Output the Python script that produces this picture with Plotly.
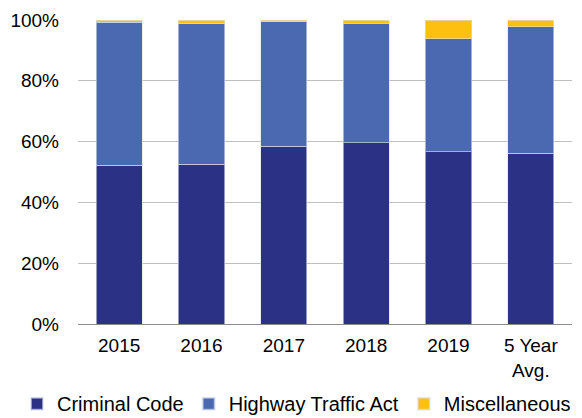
import plotly.graph_objects as go

categories = ["2015", "2016", "2017", "2018", "2019", "5 Year<br>Avg."]
criminal_code = [52.3, 52.6, 58.4, 59.7, 56.6, 56.2]
highway_traffic_act = [46.9, 46.1, 41.1, 39.2, 37.2, 41.5]
miscellaneous = [0.8, 1.3, 0.5, 1.1, 6.2, 2.3]
y_ticks = [0, 20, 40, 60, 80, 100]
y_tick_labels = ["0%", "20%", "40%", "60%", "80%", "100%"]

fig = go.Figure()
line = dict(color="rgba(220,225,240,0.6)", width=1)
fig.add_trace(go.Bar(x=categories, y=criminal_code, name="Criminal Code",
                     marker=dict(color="#2B3285", line=line)))
fig.add_trace(go.Bar(x=categories, y=highway_traffic_act, name="Highway Traffic Act",
                     marker=dict(color="#4A69B0", line=line)))
fig.add_trace(go.Bar(x=categories, y=miscellaneous, name="Miscellaneous",
                     marker=dict(color="#FDC010", line=line)))

fig.update_layout(
    barmode="stack",
    bargap=0.44,
    width=582, height=418,
    margin=dict(l=70, r=18, t=12, b=102, autoexpand=False),
    paper_bgcolor="white", plot_bgcolor="white",
    font=dict(family="Liberation Sans, Arial, sans-serif", size=19, color="#000000"),
    showlegend=True,
    legend=dict(orientation="h", x=-0.1235, xanchor="left", xref="paper",
                y=-0.262, yanchor="middle", yref="paper",
                font=dict(size=20), itemwidth=30, traceorder="normal",
                itemsizing="constant", tracegroupgap=0),
    xaxis=dict(showgrid=False, showline=True, linecolor="#8C8C8C", linewidth=1,
               ticks="", tickfont=dict(size=19), automargin=False,
               ticklabelstandoff=4),
    yaxis=dict(range=[0, 100], tickvals=y_ticks, ticktext=y_tick_labels,
               showgrid=True, gridcolor="#BFBFBF", gridwidth=1,
               zeroline=False, showline=False, ticks="",
               ticklabelstandoff=18, tickfont=dict(size=19), automargin=False),
)

fig.write_html("out.html")
